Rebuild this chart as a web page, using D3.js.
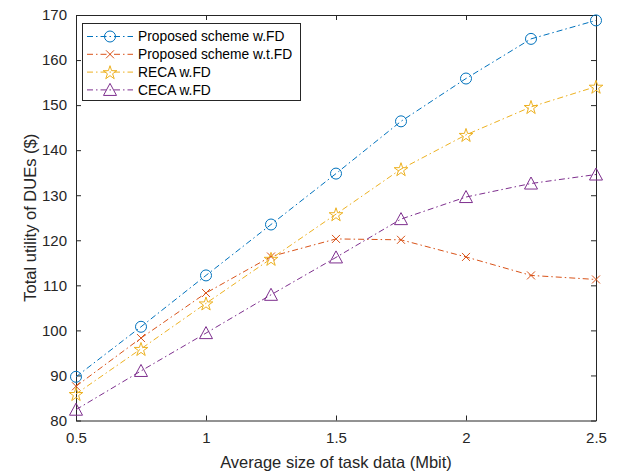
<!DOCTYPE html>
<html>
<head>
<meta charset="utf-8">
<script src="https://cdn.jsdelivr.net/npm/d3@7"></script>
<style>
  html, body { margin: 0; padding: 0; background: #fff; }
  svg { display: block; font-family: "Liberation Sans", Arial, sans-serif; }
</style>
</head>
<body>
<div id="chart"></div>
<script>
// ---- data ----
const xValues = [0.5, 0.75, 1, 1.25, 1.5, 1.75, 2, 2.25, 2.5];
const proposedFD = [89.7, 100.8, 112.2, 123.5, 134.8, 146.4, 155.9, 164.7, 168.8];
const proposedTFD = [87.6, 98.3, 108.3, 116.4, 120.3, 120.1, 116.3, 112.2, 111.3];
const recaFD = [85.9, 95.9, 106.0, 115.9, 125.8, 135.8, 143.4, 149.6, 154.1];
const cecaFD = [82.4, 91.0, 99.4, 107.9, 116.2, 124.7, 129.6, 132.6, 134.6];
const seriesNames = ['Proposed scheme w.FD', 'Proposed scheme w.t.FD', 'RECA w.FD', 'CECA w.FD'];
const xTicks = [0.5, 1, 1.5, 2, 2.5];
const yTicks = [80, 90, 100, 110, 120, 130, 140, 150, 160, 170];

const series = [
    { name: seriesNames[0], values: proposedFD, color: '#0072BD', marker: 'circle' },
    { name: seriesNames[1], values: proposedTFD, color: '#D95319', marker: 'cross' },
    { name: seriesNames[2], values: recaFD, color: '#EDB120', marker: 'star' },
    { name: seriesNames[3], values: cecaFD, color: '#7E2F8E', marker: 'triangle' }
];

const W = 621, H = 471;
const margin = { left: 76, right: 25, top: 15, bottom: 50 };

const svg = d3.select('#chart').append('svg')
    .attr('width', W)
    .attr('height', H);

const x = d3.scaleLinear().domain([0.5, 2.5]).range([margin.left, W - margin.right]);
const y = d3.scaleLinear().domain([80, 170]).range([H - margin.bottom - 0.5, margin.top]);

const axisColor = '#262626';

// axes: ticks pointing inward, box on all sides
const gx = svg.append('g')
    .attr('transform', `translate(0,${y(80)})`)
    .call(d3.axisBottom(x).tickValues(xTicks).tickFormat(d3.format('')).tickSizeInner(-5).tickSizeOuter(0).tickPadding(12));
const gxTop = svg.append('g')
    .attr('transform', `translate(0,${y(170)})`)
    .call(d3.axisTop(x).tickValues(xTicks).tickFormat('').tickSizeInner(-5).tickSizeOuter(0));
const gy = svg.append('g')
    .attr('transform', `translate(${x(0.5)},0)`)
    .call(d3.axisLeft(y).tickValues(yTicks).tickSizeInner(-5).tickSizeOuter(0).tickPadding(9));
const gyRight = svg.append('g')
    .attr('transform', `translate(${x(2.5)},0)`)
    .call(d3.axisRight(y).tickValues(yTicks).tickFormat('').tickSizeInner(-5).tickSizeOuter(0));

[gx, gxTop, gy, gyRight].forEach(g => {
    g.select('.domain').attr('stroke', axisColor).attr('stroke-width', 1);
    g.selectAll('.tick line').attr('stroke', axisColor).attr('stroke-width', 1);
    g.selectAll('.tick text')
        .attr('fill', axisColor)
        .attr('font-size', '15px')
        .attr('font-family', '"Liberation Sans", Arial, sans-serif');
});

// axis labels
svg.append('text')
    .attr('x', (x(0.5) + x(2.5)) / 2)
    .attr('y', 468)
    .attr('text-anchor', 'middle')
    .attr('fill', axisColor)
    .attr('font-size', '16.5px')
    .text('Average size of task data (Mbit)');

svg.append('text')
    .attr('transform', `translate(36,${(y(80) + y(170)) / 2}) rotate(-90)`)
    .attr('text-anchor', 'middle')
    .attr('fill', axisColor)
    .attr('font-size', '16.5px')
    .text('Total utility of DUEs ($)');

// marker path generator, centred on 0,0
function markerPath(type) {
    if (type === 'circle') {
        return d3.symbol(d3.symbolCircle, Math.PI * 5.5 * 5.5)();
    }
    if (type === 'cross') {
        const s = 4;
        return `M${-s},${-s}L${s},${s}M${-s},${s}L${s},${-s}`;
    }
    if (type === 'star') {
        const pts = [];
        const R = 7.2, r = R * 0.382;
        for (let i = 0; i < 10; i++) {
            const a = -Math.PI / 2 + i * Math.PI / 5;
            const rad = i % 2 === 0 ? R : r;
            pts.push([rad * Math.cos(a), rad * Math.sin(a) + 0.8]);
        }
        return 'M' + pts.map(p => p.join(',')).join('L') + 'Z';
    }
    // triangle, centred on its bounding box
    const h = 6.5;
    return `M0,${-h}L${h},${h * 0.85}L${-h},${h * 0.85}Z`;
}

const line = d3.line()
    .x((d, i) => x(xValues[i]))
    .y(d => y(d));

const plot = svg.append('g');

series.forEach(s => {
    plot.append('path')
        .datum(s.values)
        .attr('fill', 'none')
        .attr('stroke', s.color)
        .attr('stroke-width', 1)
        .attr('stroke-dasharray', '6,3,1.5,3')
        .attr('d', line);

    plot.selectAll(null)
        .data(s.values)
        .enter()
        .append('path')
        .attr('transform', (d, i) => `translate(${x(xValues[i])},${y(d)})`)
        .attr('d', markerPath(s.marker))
        .attr('fill', 'none')
        .attr('stroke', s.color)
        .attr('stroke-width', 1);
});

// legend
const legend = svg.append('g').attr('transform', 'translate(82,23)');
legend.append('rect')
    .attr('x', 0.5)
    .attr('y', 0.5)
    .attr('width', 218)
    .attr('height', 77)
    .attr('fill', '#fff')
    .attr('stroke', axisColor)
    .attr('stroke-width', 1);

series.forEach((s, i) => {
    const row = legend.append('g').attr('transform', `translate(0,${13.5 + i * 17.8})`);
    row.append('line')
        .attr('x1', 5).attr('x2', 51)
        .attr('y1', 0).attr('y2', 0)
        .attr('stroke', s.color)
        .attr('stroke-width', 1)
        .attr('stroke-dasharray', '6,3,1.5,3');
    row.append('path')
        .attr('transform', 'translate(28,0)')
        .attr('d', markerPath(s.marker))
        .attr('fill', 'none')
        .attr('stroke', s.color)
        .attr('stroke-width', 1);
    row.append('text')
        .attr('x', 56)
        .attr('y', 0)
        .attr('dy', '0.35em')
        .attr('fill', '#000')
        .attr('font-size', '13.8px')
        .text(s.name);
});
</script>
</body>
</html>
